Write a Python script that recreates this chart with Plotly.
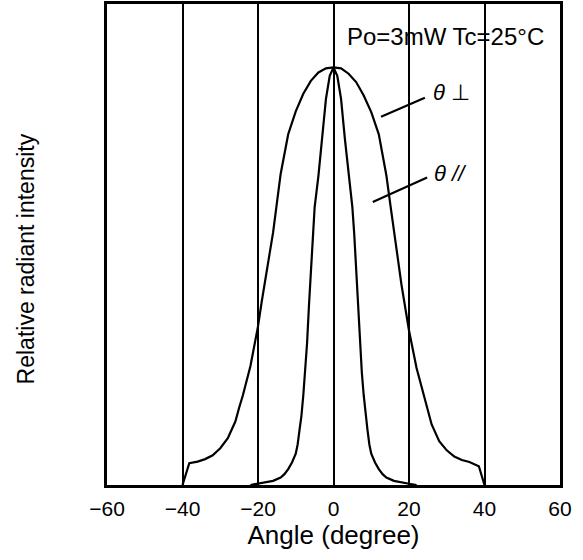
import plotly.graph_objects as go

# ---- data ----
wide_angle = [-40, -38.2, -36, -34, -32, -30, -28, -26, -25, -24, -22, -20, -19, -18, -17, -16, -15, -14,
              -12, -10, -8, -6, -4, -2, 0,
              2, 4, 6, 8, 10, 12, 14, 15, 16, 17, 18, 19, 20, 22, 24, 25, 26, 28, 30, 32, 34, 36, 38.5, 40]
wide_int = [0.0, 0.052, 0.056, 0.062, 0.071, 0.088, 0.112, 0.152, 0.185, 0.215, 0.285, 0.38, 0.44, 0.49, 0.55, 0.605, 0.675, 0.745,
            0.84, 0.895, 0.937, 0.968, 0.988, 0.998, 1.0,
            0.998, 0.985, 0.965, 0.933, 0.893, 0.84, 0.742, 0.675, 0.605, 0.545, 0.48, 0.425, 0.37, 0.28, 0.21, 0.18, 0.145, 0.105, 0.083, 0.068, 0.06, 0.055, 0.045, 0.0]

narrow_angle = [-22, -20, -18, -16, -14, -13, -12, -11, -10, -9.5, -9, -8.5, -8, -7.5, -7, -6.5, -6, -5.5, -5, -4, -3, -2, -1, 0,
                1, 2, 3, 4, 5, 5.5, 6, 6.5, 7, 7.5, 8, 8.5, 9, 9.5, 10, 11, 12, 13, 14, 16, 18, 20, 22]
narrow_int = [0.0, 0.003, 0.006, 0.010, 0.018, 0.026, 0.038, 0.054, 0.075, 0.097, 0.132, 0.165, 0.215, 0.27, 0.34, 0.43, 0.52, 0.60, 0.665, 0.74, 0.83, 0.925, 0.98, 1.0,
              0.98, 0.925, 0.83, 0.74, 0.665, 0.60, 0.52, 0.43, 0.34, 0.27, 0.215, 0.165, 0.132, 0.097, 0.075, 0.054, 0.038, 0.026, 0.018, 0.010, 0.006, 0.003, 0.0]

x_ticks = [-60, -40, -20, 0, 20, 40, 60]
x_range = [-60, 60]
y_range = [0, 1.152]

x_title = "Angle (degree)"
y_title = "Relative radiant intensity"
cond_text = "Po=3mW Tc=25°C"
label_perp = "<i>θ</i> ⊥"
label_par = "<i>θ //</i>"

FONT = "Liberation Sans, Arial, Helvetica, sans-serif"

fig = go.Figure()
fig.add_trace(go.Scatter(x=wide_angle, y=wide_int, mode="lines",
                         line=dict(color="black", width=2.2), showlegend=False, hoverinfo="skip"))
fig.add_trace(go.Scatter(x=narrow_angle, y=narrow_int, mode="lines",
                         line=dict(color="black", width=2.2), showlegend=False, hoverinfo="skip"))

fig.update_xaxes(range=x_range, tickvals=x_ticks, ticks="", showgrid=True, gridcolor="black", gridwidth=2.2,
                 showline=True, mirror=True, linecolor="black", linewidth=3, zeroline=False, automargin=False,
                 tickfont=dict(size=21, color="black", family=FONT), ticklabelstandoff=3,
                 title=dict(text=x_title, font=dict(size=26, color="black", family=FONT), standoff=2))
fig.update_yaxes(range=y_range, showticklabels=False, ticks="", showgrid=False, automargin=False,
                 showline=True, mirror=True, linecolor="black", linewidth=3, zeroline=False)

annotations = [
    dict(text=y_title, xref="paper", yref="paper", x=-0.18, y=0.47, textangle=-90,
         showarrow=False, font=dict(size=23, color="black", family=FONT), xanchor="center", yanchor="middle"),
    dict(text=cond_text, xref="x", yref="y", x=29.6, y=1.075, showarrow=False,
         font=dict(size=24, color="black", family=FONT), xanchor="center", yanchor="middle"),
    dict(text=label_perp, xref="x", yref="y", x=31.2, y=0.94, showarrow=False,
         font=dict(size=22, color="black", family=FONT), xanchor="center", yanchor="middle"),
    dict(text=label_par, xref="x", yref="y", x=30.8, y=0.745, showarrow=False,
         font=dict(size=22, color="black", family=FONT), xanchor="center", yanchor="middle"),
    dict(text="", x=12.6, y=0.882, ax=24.6, ay=0.929, xref="x", yref="y", axref="x", ayref="y",
         showarrow=True, arrowhead=0, arrowwidth=2.2, arrowcolor="black", standoff=0, startstandoff=0),
    dict(text="", x=10.4, y=0.678, ax=25.2, ay=0.738, xref="x", yref="y", axref="x", ayref="y",
         showarrow=True, arrowhead=0, arrowwidth=2.2, arrowcolor="black", standoff=0, startstandoff=0),
]

fig.update_layout(width=583, height=560, margin=dict(l=107, r=23, t=4, b=75),
                  plot_bgcolor="white", paper_bgcolor="white", annotations=annotations,
                  font=dict(family=FONT, color="black"))

fig.write_html("out.html", include_plotlyjs=True, config={"displayModeBar": False},
               post_script="document.body.style.margin='0';document.body.style.overflow='hidden';")
